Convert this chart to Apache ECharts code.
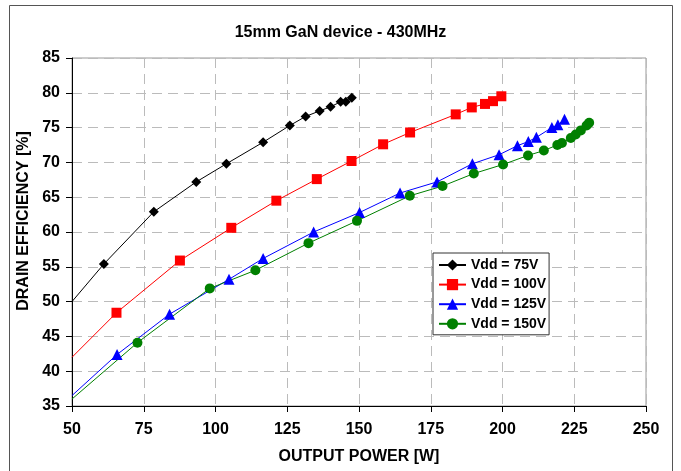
<!DOCTYPE html>
<html>
<head>
<meta charset="utf-8">
<script src="https://cdn.jsdelivr.net/npm/echarts@6/dist/echarts.min.js"></script>
<style>
  html, body { margin: 0; padding: 0; background: #fff; }
  #chart { width: 681px; height: 471px; }
</style>
</head>
<body>
<div id="chart"></div>
<script>
// output power [W] and drain efficiency [%] per supply voltage
// first entry of each series is the line extension to the axis (no marker)
const power75 = [50, 61.1, 78.5, 93.3, 103.8, 116.6, 125.9, 131.4, 136.3, 140.1, 143.6, 145.4, 147.5];
const eff75 = [50.0, 55.4, 62.9, 67.2, 69.8, 72.9, 75.3, 76.6, 77.4, 78.0, 78.7, 78.7, 79.3];

const power100 = [50, 65.5, 87.6, 105.5, 121.2, 135.3, 147.4, 158.4, 167.8, 183.7, 189.3, 193.9, 196.7, 199.6];
const eff100 = [42.0, 48.4, 55.9, 60.6, 64.5, 67.6, 70.2, 72.6, 74.3, 76.9, 77.9, 78.4, 78.8, 79.5];

const power125 = [50, 65.7, 84.0, 104.7, 116.6, 134.2, 150.2, 164.3, 177.2, 189.5, 198.8, 205.2, 209.0, 211.8, 217.2, 219.3, 221.6];
const eff125 = [36.5, 42.4, 48.2, 53.2, 56.2, 60.0, 62.8, 65.6, 67.2, 69.8, 71.1, 72.4, 73.0, 73.6, 75.0, 75.4, 76.2];

const power150 = [50, 72.8, 98.0, 113.9, 132.4, 149.3, 167.7, 179.1, 190.0, 200.2, 208.9, 214.4, 219.1, 220.7, 223.8, 225.5, 227.3, 229.3, 230.2];
const eff150 = [36.0, 44.1, 51.9, 54.5, 58.4, 61.6, 65.2, 66.6, 68.4, 69.7, 71.0, 71.7, 72.5, 72.8, 73.5, 74.0, 74.6, 75.3, 75.7];

const seriesNames = ['Vdd = 75V', 'Vdd = 100V', 'Vdd = 125V', 'Vdd = 150V'];

const font = 'Liberation Sans, Arial, sans-serif';

const toPoints = (xs, ys) =>
    xs.map((x, i) => (i === 0 ? { value: [x, ys[i]], symbol: 'none' } : [x, ys[i]]));

const makeSeries = (name, xs, ys, color, symbol, size) => ({
    name: name,
    type: 'line',
    data: toPoints(xs, ys),
    symbol: symbol,
    symbolSize: size,
    showAllSymbol: true,
    lineStyle: { color: color, width: 1 },
    itemStyle: { color: color },
    emphasis: { disabled: true },
    z: 3,
});

const chart = echarts.init(document.getElementById('chart'));

chart.setOption({
    animation: false,
    backgroundColor: '#fff',
    title: {
        text: '15mm GaN device - 430MHz',
        left: 'center',
        top: 20,
        textStyle: { fontFamily: font, fontSize: 16, fontWeight: 'bold', color: '#000' },
    },
    graphic: [
        {
            type: 'rect',
            shape: { x: 9.5, y: 5.5, width: 663, height: 470 },
            style: { fill: 'none', stroke: '#555', lineWidth: 1 },
            silent: true,
        },
    ],
    legend: {
        orient: 'vertical',
        left: 433,
        top: 253,
        data: seriesNames,
        backgroundColor: '#fff',
        borderColor: '#333',
        borderWidth: 1,
        borderRadius: 0,
        padding: [5, 3, 4, 5],
        itemGap: 5.6,
        itemWidth: 27,
        itemHeight: 14,
        textStyle: { fontFamily: font, fontSize: 14, lineHeight: 14, fontWeight: 'bold', color: '#000' },
        z: 10,
    },
    grid: {
        left: 72,
        right: 35,
        top: 58,
        bottom: 65,
        show: true,
        borderColor: '#999',
        borderWidth: 1,
    },
    xAxis: {
        type: 'value',
        min: 50,
        max: 250,
        interval: 25,
        name: 'OUTPUT POWER [W]',
        nameLocation: 'middle',
        nameGap: 43,
        nameTextStyle: { fontFamily: font, fontSize: 16, fontWeight: 'bold', color: '#000' },
        axisLine: { onZero: false, lineStyle: { color: '#000', width: 1 } },
        axisTick: { show: true, length: 6, lineStyle: { color: '#000' } },
        axisLabel: { fontFamily: font, fontSize: 16, fontWeight: 'bold', color: '#000', margin: 16 },
        splitLine: { show: true, lineStyle: { color: '#bbb', type: [10, 6], width: 1 } },
    },
    yAxis: {
        type: 'value',
        min: 35,
        max: 85,
        interval: 5,
        name: 'DRAIN EFFICIENCY [%]',
        nameLocation: 'middle',
        nameGap: 39,
        nameTextStyle: { fontFamily: font, fontSize: 16, fontWeight: 'bold', color: '#000', padding: [0, 0, 0, 22] },
        axisLine: { show: true, onZero: false, lineStyle: { color: '#000', width: 1 } },
        axisTick: { show: true, length: 6, lineStyle: { color: '#000' } },
        axisLabel: { fontFamily: font, fontSize: 16, fontWeight: 'bold', color: '#000', margin: 12 },
        splitLine: { show: true, lineStyle: { color: '#bbb', type: [10, 6], width: 1 } },
    },
    series: [
        makeSeries(seriesNames[0], power75, eff75, '#000000', 'diamond', 10),
        makeSeries(seriesNames[1], power100, eff100, '#ff0000', 'rect', 10),
        makeSeries(seriesNames[2], power125, eff125, '#0000ff', 'triangle', 11),
        makeSeries(seriesNames[3], power150, eff150, '#008000', 'circle', 10),
    ],
});
</script>
</body>
</html>
